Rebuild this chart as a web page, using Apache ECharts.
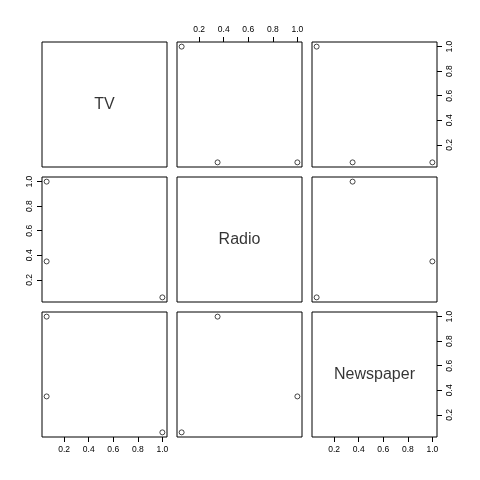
<!DOCTYPE html>
<html>
<head>
<meta charset="utf-8">
<script src="https://cdn.jsdelivr.net/npm/echarts@6/dist/echarts.min.js"></script>
<style>
html,body{margin:0;padding:0;background:#fff;}
#chart{width:480px;height:480px;}
</style>
</head>
<body>
<div id="chart"></div>
<script>
// ---- data ----
const variables = ['TV', 'Radio', 'Newspaper'];
const tv = [0.057, 0.057, 1.0];
const radio = [1.0, 0.35, 0.057];
const newspaper = [0.35, 1.0, 0.057];
const tickValues = [0.2, 0.4, 0.6, 0.8, 1.0];

const cols = [tv, radio, newspaper];
const FONT = "'Liberation Sans', Arial, Helvetica, sans-serif";

function range(arr) {
  const lo = Math.min.apply(null, arr), hi = Math.max.apply(null, arr);
  const pad = (hi - lo) * 0.04;
  return [lo - pad, hi + pad];
}

const grids = [], xAxes = [], yAxes = [], series = [];
const origin = 42, size = 125, gap = 10;

for (let r = 0; r < 3; r++) {
  for (let c = 0; c < 3; c++) {
    const g = r * 3 + c;
    grids.push({
      left: origin + c * (size + gap),
      top: origin + r * (size + gap),
      width: size,
      height: size,
      show: true,
      borderColor: '#000',
      borderWidth: 1,
      backgroundColor: 'transparent'
    });
    const xr = range(cols[c]);
    const yr = range(cols[r]);
    const showX = (r === 0 && c === 1) || (r === 2 && (c === 0 || c === 2));
    const showY = (c === 2 && (r === 0 || r === 2)) || (c === 0 && r === 1);
    xAxes.push({
      gridIndex: g, type: 'value', min: xr[0], max: xr[1],
      position: (r === 0) ? 'top' : 'bottom',
      axisLine: { show: false },
      splitLine: { show: false },
      axisTick: { show: showX, inside: false, length: 5, customValues: tickValues,
                  lineStyle: { color: '#000', width: 1 } },
      axisLabel: { show: showX, customValues: tickValues, color: '#000', fontSize: 8.5,
                   fontFamily: FONT, margin: 8,
                   formatter: v => Number(v).toFixed(1) }
    });
    yAxes.push({
      gridIndex: g, type: 'value', min: yr[0], max: yr[1],
      position: (c === 2) ? 'right' : 'left',
      axisLine: { show: false },
      splitLine: { show: false },
      axisTick: { show: showY, inside: false, length: 5, customValues: tickValues,
                  lineStyle: { color: '#000', width: 1 } },
      axisLabel: { show: showY, customValues: tickValues, color: '#000', fontSize: 8.5,
                   fontFamily: FONT, margin: 8, rotate: 90,
                   formatter: v => Number(v).toFixed(1) }
    });
    if (r === c) {
      series.push({
        type: 'scatter', xAxisIndex: g, yAxisIndex: g,
        symbolSize: 0, silent: true,
        itemStyle: { color: 'transparent' },
        data: [[(xr[0] + xr[1]) / 2, (yr[0] + yr[1]) / 2]],
        label: { show: true, position: 'inside', formatter: variables[r],
                 color: '#000', fontSize: 16, fontFamily: FONT,
                 textBorderWidth: 0, textBorderColor: 'transparent' }
      });
    } else {
      series.push({
        type: 'scatter', xAxisIndex: g, yAxisIndex: g,
        symbol: 'circle', symbolSize: 5, silent: true,
        itemStyle: { color: 'transparent', borderColor: '#000', borderWidth: 0.9 },
        data: cols[c].map((v, i) => [v, cols[r][i]])
      });
    }
  }
}

const chart = echarts.init(document.getElementById('chart'), null, { renderer: 'canvas' });
chart.setOption({
  animation: false,
  backgroundColor: '#fff',
  grid: grids,
  xAxis: xAxes,
  yAxis: yAxes,
  series: series
});
</script>
</body>
</html>
